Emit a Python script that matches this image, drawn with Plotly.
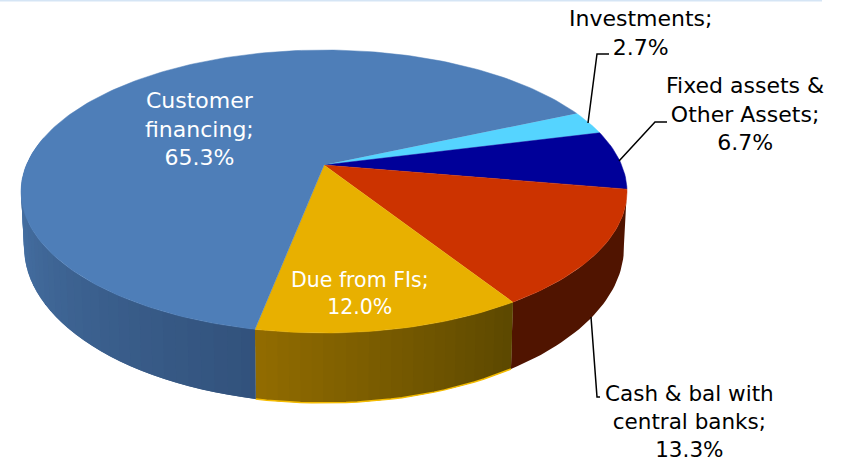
import math
import plotly.graph_objects as go

# Data
categories = ["Investments", "Fixed assets & Other Assets", "Cash & bal with central banks", "Due from FIs", "Customer financing"]
shares = [2.7, 6.7, 13.3, 12.0, 65.3]
label_text = ["Investments;<br>2.7%", "Fixed assets &<br>Other Assets;<br>6.7%", "Cash & bal with<br>central banks;<br>13.3%", "Due from FIs;<br>12.0%", "Customer<br>financing;<br>65.3%"]
top_colors = ["#55d4ff", "#000099", "#cc3300", "#e8b000", "#4e7eb8"]

W, H = 844, 461
START = 24.0           # disk angle where the first slice begins (clockwise from here)
CX, CY, RX, RY = 324, 191.5, 303, 141.5   # rim of top face
BCX, BCY, BRX, BRY = 324, 247, 300, 156   # rim of bottom face
K = 0.187              # perspective shift of pie centre


def warp(theta):
    a = math.radians(theta)
    x, y = math.cos(a), math.sin(a)
    d = 1 + K * y
    return x * math.sqrt(1 - K * K) / d, (y + K) / d


def top(theta):
    u, v = warp(theta)
    return CX + RX * u, CY - RY * v


def bottom(theta):
    u, v = warp(theta)
    return BCX + BRX * u, BCY - BRY * v


def arc(a0, a1, n):
    return [a0 + (a1 - a0) * i / n for i in range(n + 1)]


def lerp(c0, c1, f):
    return "rgb(%d,%d,%d)" % tuple(round(c0[i] + (c1[i] - c0[i]) * f) for i in range(3))


edges = [START]
for s in shares:
    edges.append(edges[-1] - s * 3.6)

fig = go.Figure()


def poly(xs, ys, color, lw=0):
    fig.add_trace(go.Scatter(x=xs, y=ys, mode="lines", fill="toself", fillcolor=color,
                             line=dict(color=color, width=lw), hoverinfo="skip", showlegend=False))


def wall(a0, a1, c0, c1, n, outline=None):
    # strips drawn back to front, each overlapping the next so no seams show
    angs = arc(a0, a1, n)
    steps = max(3, 36 // n)
    for i in range(n - 1, -1, -1):
        j = max(i - 1, 0)
        arc_angs = arc(angs[j], angs[i + 1], steps)
        t = [top(a) for a in arc_angs]
        b = [bottom(a) for a in arc_angs]
        p = t + b[::-1]
        poly([q[0] for q in p], [q[1] for q in p], lerp(c0, c1, (i + 0.5) / n))
    if outline:
        b = [bottom(a) for a in angs]
        fig.add_trace(go.Scatter(x=[q[0] for q in b], y=[q[1] for q in b], mode="lines",
                                 line=dict(color=outline, width=1.5), hoverinfo="skip", showlegend=False))


# side walls
wall(edges[2], edges[3], (80, 20, 0), (80, 20, 0), 1)
wall(edges[3], edges[4], (92, 72, 0), (146, 108, 0), 24, outline="#f5bc00")
wall(edges[4], -192, (50, 82, 124), (76, 122, 176), 40)

# top faces
apex = (CX, CY - RY * K)
for i, color in enumerate(top_colors):
    pts = [top(a) for a in arc(edges[i], edges[i + 1], max(6, int(shares[i] * 3)))]
    poly([apex[0]] + [q[0] for q in pts], [apex[1]] + [q[1] for q in pts], color, lw=0.5)

# leader lines
leaders = [
    ([588, 597, 609], [123, 54, 54]),
    ([619, 655, 667], [161, 122, 122]),
    ([591, 597, 600], [317, 397, 397]),
]
for xs, ys in leaders:
    fig.add_trace(go.Scatter(x=xs, y=ys, mode="lines", line=dict(color="black", width=1.5),
                             hoverinfo="skip", showlegend=False))

# top rule
fig.add_trace(go.Scatter(x=[0, 822], y=[0.5, 0.5], mode="lines", line=dict(color="#d5e5f5", width=2),
                         hoverinfo="skip", showlegend=False))

label_pos = [(640, 33), (745, 114), (689, 421), (360, 293), (199, 129)]
label_color = ["black", "black", "black", "white", "white"]
label_size = [22, 22, 21.5, 20.5, 22]
for t, (x, y), c, s in zip(label_text, label_pos, label_color, label_size):
    fig.add_annotation(x=x, y=y, xref="x", yref="y", text=t, showarrow=False,
                       align="center", xanchor="center", yanchor="middle",
                       font=dict(family="DejaVu Sans", size=s, color=c))

fig.update_layout(width=W, height=H, margin=dict(l=0, r=0, t=0, b=0),
                  paper_bgcolor="white", plot_bgcolor="white", showlegend=False,
                  xaxis=dict(range=[0, W], visible=False, fixedrange=True),
                  yaxis=dict(range=[H, 0], visible=False, fixedrange=True))
fig.write_html("out.html", config=dict(displayModeBar=False),
               post_script="document.body.style.margin='0';document.documentElement.style.overflow='hidden';")
